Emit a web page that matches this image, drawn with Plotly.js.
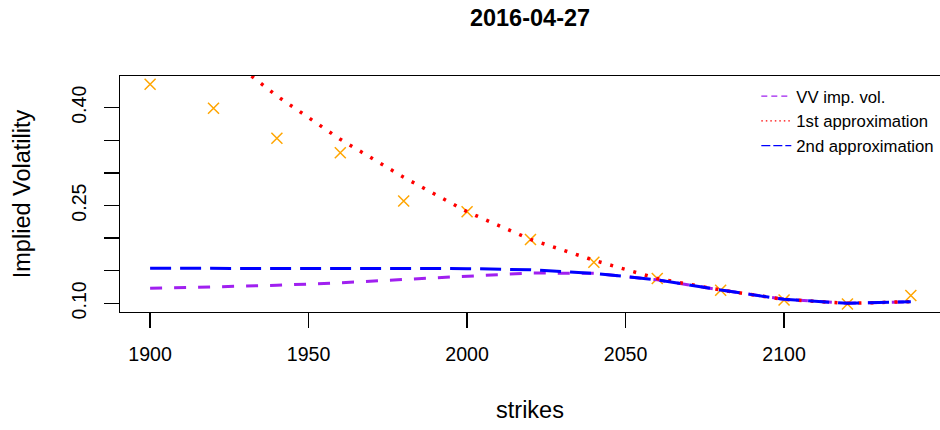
<!DOCTYPE html>
<html>
<head>
<meta charset="utf-8">
<script src="https://cdn.plot.ly/plotly-3.0.1.min.js"></script>
<style>
  html, body { margin: 0; padding: 0; background: #ffffff; }
  #chart { width: 940px; height: 430px; }
</style>
</head>
<body>
<div id="chart"></div>
<script>
// Strike grid and implied volatilities for the 2016-04-27 expiry
const strikes = [1900, 1920, 1940, 1960, 1980, 2000, 2020, 2040, 2060, 2080, 2100, 2120, 2140];

// Market implied volatilities (crosses)
const marketVol = [0.436, 0.399, 0.353, 0.331, 0.257, 0.2405, 0.198, 0.163, 0.138, 0.120, 0.105, 0.099, 0.112];

// Vanna-Volga implied volatility
const vvVol = [0.123, 0.125, 0.1276, 0.1316, 0.1362, 0.1408, 0.1465, 0.146, 0.136, 0.1204, 0.1061, 0.1000, 0.1025];

// First-order approximation
const approx1 = [0.578, 0.494, 0.418, 0.3515, 0.2933, 0.2405, 0.198, 0.166, 0.138, 0.1204, 0.1061, 0.1000, 0.1025];

// Second-order approximation
const approx2 = [0.1537, 0.1537, 0.1537, 0.1536, 0.1535, 0.1532, 0.1515, 0.146, 0.136, 0.1204, 0.1061, 0.1000, 0.1025];

// Axis ticks
const xTicks = [1900, 1950, 2000, 2050, 2100];
const xTickText = ['1900', '1950', '2000', '2050', '2100'];
const yTicks = [0.10, 0.15, 0.20, 0.25, 0.30, 0.35, 0.40];
const yTickText = ['0.10', '', '', '0.25', '', '', '0.40'];

const seriesNames = ['VV imp. vol.', '1st approximation', '2nd approximation'];

const FONT = 'Liberation Sans, Arial, Helvetica, sans-serif';
const PURPLE = '#A020F0';
const RED = '#FF0000';
const BLUE = '#0000FF';
const ORANGE = '#FFA500';

const traces = [
  {
    x: strikes, y: marketVol, type: 'scatter', mode: 'markers',
    marker: { symbol: 'x-thin-open', size: 11, color: ORANGE, line: { color: ORANGE, width: 1.5 } },
    showlegend: false, hoverinfo: 'skip'
  },
  {
    x: strikes, y: vvVol, type: 'scatter', mode: 'lines',
    line: { color: PURPLE, width: 3, dash: '12px,12px' },
    showlegend: false, hoverinfo: 'skip'
  },
  {
    x: strikes, y: approx1, type: 'scatter', mode: 'lines',
    line: { color: RED, width: 3.5, dash: '3px,9px' },
    showlegend: false, hoverinfo: 'skip'
  },
  {
    x: strikes, y: approx2, type: 'scatter', mode: 'lines',
    line: { color: BLUE, width: 3, dash: '21px,9px' },
    showlegend: false, hoverinfo: 'skip'
  },
  // Legend entries drawn with thin line samples
  {
    x: [null], y: [null], type: 'scatter', mode: 'lines', name: seriesNames[0], legendgroup: 'a',
    line: { color: PURPLE, width: 1.3, dash: '6px,4px' }
  },
  {
    x: [null], y: [null], type: 'scatter', mode: 'lines', name: seriesNames[1], legendgroup: 'b',
    line: { color: RED, width: 1.3, dash: '1.5px,3px' }
  },
  {
    x: [null], y: [null], type: 'scatter', mode: 'lines', name: seriesNames[2], legendgroup: 'c',
    line: { color: BLUE, width: 1.3, dash: '9px,3px' }
  }
];

const layout = {
  width: 940, height: 430,
  margin: { l: 120, r: 0, t: 76, b: 118, pad: 0 },
  paper_bgcolor: '#ffffff', plot_bgcolor: '#ffffff',
  font: { family: FONT, color: '#000000', size: 19.6 },
  title: {
    text: '<b>2016-04-27</b>',
    font: { family: FONT, size: 23.5, color: '#000000' },
    xref: 'paper', x: 0.5, xanchor: 'center',
    yref: 'container', y: 0.958, yanchor: 'middle'
  },
  xaxis: {
    range: [1890.5, 2149.2],
    tickmode: 'array', tickvals: xTicks, ticktext: xTickText,
    ticks: 'outside', ticklen: 15, tickwidth: 1.3, tickcolor: '#000000',
    showline: true, linecolor: '#000000', linewidth: 1.3, mirror: true,
    showgrid: false, zeroline: false,
    tickfont: { family: FONT, size: 19.6, color: '#000000' },
    ticklabelstandoff: 9,
    title: { text: 'strikes', font: { family: FONT, size: 23.5, color: '#000000' }, standoff: 37 }
  },
  yaxis: {
    range: [0.0867, 0.4486],
    tickmode: 'array', tickvals: yTicks, ticktext: yTickText,
    ticks: 'outside', ticklen: 15, tickwidth: 1.3, tickcolor: '#000000',
    tickangle: -90,
    showline: true, linecolor: '#000000', linewidth: 1.3, mirror: true,
    showgrid: false, zeroline: false,
    tickfont: { family: FONT, size: 19.6, color: '#000000' },
    ticklabelstandoff: 10,
    title: { text: 'Implied Volatility', font: { family: FONT, size: 23.5, color: '#000000' }, standoff: 30 }
  },
  legend: {
    x: 0.776, xanchor: 'left', xref: 'paper',
    y: 0.988, yanchor: 'top', yref: 'paper',
    bgcolor: 'rgba(0,0,0,0)', borderwidth: 0,
    font: { family: FONT, size: 16.7, color: '#000000' },
    tracegroupgap: 0,
    itemwidth: 30
  },
  showlegend: true
};

Plotly.newPlot('chart', traces, layout, { displayModeBar: false, staticPlot: true });
</script>
</body>
</html>
